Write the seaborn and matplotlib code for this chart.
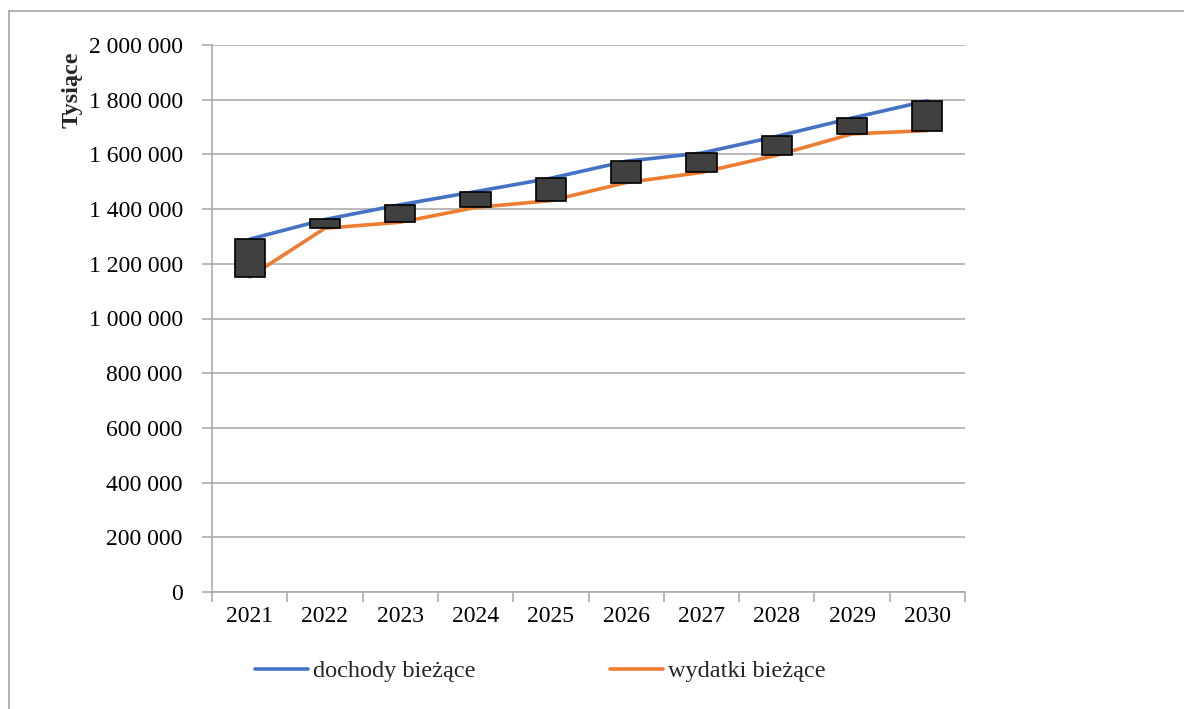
import numpy as np
import pandas as pd
import matplotlib
matplotlib.use("Agg")
import matplotlib.pyplot as plt
from matplotlib.lines import Line2D
from matplotlib.ticker import FuncFormatter
import seaborn as sns

years = ["2021", "2022", "2023", "2024", "2025", "2026", "2027", "2028", "2029", "2030"]
dochody = [1290000, 1362000, 1416000, 1464000, 1513000, 1575000, 1605000, 1666000, 1733000, 1796000]
wydatki = [1152000, 1330000, 1352000, 1406000, 1431000, 1497000, 1534000, 1597000, 1675000, 1687000]

sns.set_theme(style="white")
plt.rcParams['font.family'] = ['Liberation Serif', 'DejaVu Serif']

df = pd.DataFrame({"pos": np.arange(len(years)), "dochody": dochody, "wydatki": wydatki})

fig = plt.figure(figsize=(11.84, 7.09), dpi=100)
ax = fig.add_axes([212 / 1184, 1 - 592 / 709, (965 - 212) / 1184, (592 - 45) / 709])

sns.lineplot(data=df, x="pos", y="dochody", ax=ax, color="#4472C4", linewidth=2.6,
             label="dochody bieżące", zorder=3)
sns.lineplot(data=df, x="pos", y="wydatki", ax=ax, color="#ED7D31", linewidth=2.6,
             label="wydatki bieżące", zorder=3)

# slupki gora-dol miedzy seriami
low = np.minimum(df["dochody"], df["wydatki"])
high = np.maximum(df["dochody"], df["wydatki"])
ax.bar(df["pos"], high - low, bottom=low, width=0.4, color="#404040",
       edgecolor="black", linewidth=1.2, zorder=4)

ax.set_xlim(-0.5, len(years) - 0.5)
ax.set_ylim(0, 2000000)
ax.set_yticks(np.arange(0, 2000001, 200000))
ax.yaxis.set_major_formatter(FuncFormatter(lambda v, p: f"{int(v):,}".replace(",", " ")))
ax.set_xticks(df["pos"])
ax.set_xticklabels(years)
ax.set_xticks(np.arange(-0.5, len(years), 1), minor=True)

ax.grid(axis="y", color="#A6A6A6", linewidth=1.1)
ax.grid(axis="x", visible=False)
for s in ["top", "right"]:
    ax.spines[s].set_visible(False)
for s in ["left", "bottom"]:
    ax.spines[s].set_color("#A6A6A6")
    ax.spines[s].set_linewidth(1.1)

ax.tick_params(axis="y", which="major", left=True, length=7, color="#A6A6A6",
               width=1.1, labelsize=17, pad=14, labelcolor="black")
ax.tick_params(axis="x", which="major", length=0, labelsize=17, pad=10, labelcolor="black")
ax.tick_params(axis="x", which="minor", bottom=True, length=7, color="#A6A6A6", width=1.1)

ax.set_xlabel("")
ax.set_ylabel("")
fig.text(72 / 1184, 1 - 90 / 709, "Tysiące", rotation=90, ha="center", va="center",
         fontsize=17.5, fontweight="bold")

ax.legend(loc="center left", bbox_to_anchor=(255 / 1184, 1 - 671 / 709),
          bbox_transform=fig.transFigure, ncol=2, frameon=False, borderpad=0,
          borderaxespad=0, fontsize=17.5, handlelength=2.2, handletextpad=0.2,
          columnspacing=5.5)

# ramka wykresu
fig.add_artist(Line2D([9 / 1184, 1], [1 - 10.5 / 709] * 2, transform=fig.transFigure,
                      color="#A6A6A6", linewidth=1.2))
fig.add_artist(Line2D([9 / 1184] * 2, [0, 1 - 10.5 / 709], transform=fig.transFigure,
                      color="#A6A6A6", linewidth=1.2))

fig.savefig("out.png", dpi=100)
